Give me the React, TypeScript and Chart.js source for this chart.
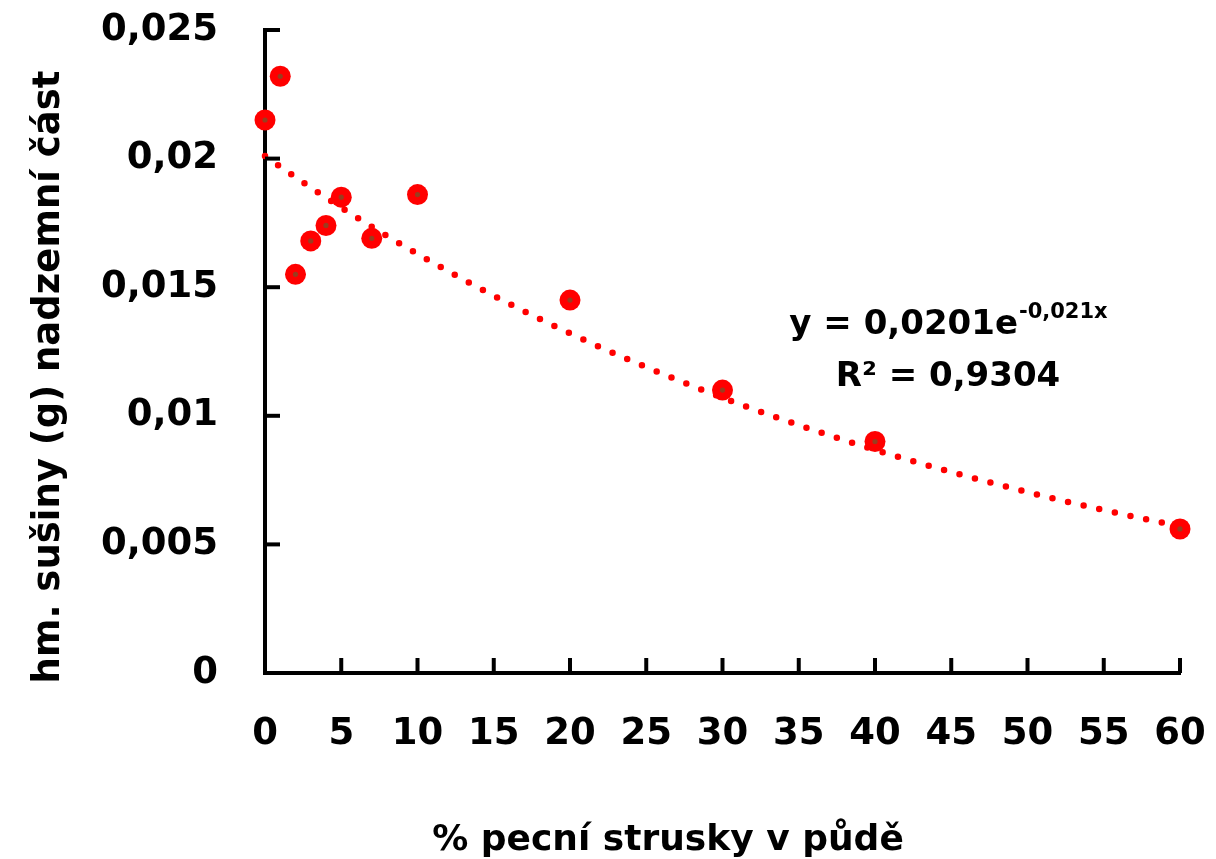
import React, { useEffect, useRef } from "react";
import { Chart, registerables } from "chart.js";

Chart.register(...registerables);

// ---- data ----
const X_VALUES = [0, 1, 2, 3, 4, 5, 7, 10, 20, 30, 40, 60];
const Y_VALUES = [0.0215, 0.0232, 0.0155, 0.0168, 0.0174, 0.0185, 0.0169, 0.0186, 0.0145, 0.011, 0.009, 0.0056];
const X_TICKS = [0, 5, 10, 15, 20, 25, 30, 35, 40, 45, 50, 55, 60];
const Y_TICKS = [0, 0.005, 0.01, 0.015, 0.02, 0.025];
const Y_TICK_LABELS = ["0", "0,005", "0,01", "0,015", "0,02", "0,025"];
// displayed exponential fit: y = 0,0201 e^(-0,021x)
const TREND_A = 0.0201;
const TREND_B = -0.021;
const TREND_X = Array.from({ length: 61 }, (_, i) => i);
const X_TITLE = "% pecní strusky v půdě";
const Y_TITLE = "hm. sušiny (g) nadzemní část";
const EQ_MAIN = "y = 0,0201e";
const EQ_SUP = "-0,021x";
const R2_TEXT = "R² = 0,9304";

const FONT = "'DejaVu Sans', sans-serif";

const decorPlugin = {
  id: "decor",
  afterDraw(chart: any) {
    const { ctx, chartArea, scales } = chart;
    const xs = scales.x;
    const ys = scales.y;
    ctx.save();
    // inward tick marks
    ctx.strokeStyle = "#000";
    ctx.lineWidth = 4;
    ctx.lineCap = "butt";
    Y_TICKS.forEach((v) => {
      const py = ys.getPixelForValue(v);
      ctx.beginPath();
      ctx.moveTo(chartArea.left, py);
      ctx.lineTo(chartArea.left + 15, py);
      ctx.stroke();
    });
    X_TICKS.forEach((v) => {
      const px = xs.getPixelForValue(v);
      ctx.beginPath();
      ctx.moveTo(px, chartArea.bottom);
      ctx.lineTo(px, chartArea.bottom - 15);
      ctx.stroke();
    });

    ctx.fillStyle = "#000";
    // axis titles
    ctx.font = `bold 36px ${FONT}`;
    ctx.textAlign = "center";
    ctx.textBaseline = "alphabetic";
    ctx.fillText(X_TITLE, 668, 850);

    ctx.save();
    ctx.translate(59, 377);
    ctx.rotate(-Math.PI / 2);
    ctx.font = `bold 37px ${FONT}`;
    ctx.fillText(Y_TITLE, 0, 0);
    ctx.restore();

    // equation
    const cx = 948;
    ctx.textAlign = "left";
    ctx.font = `bold 34px ${FONT}`;
    const wMain = ctx.measureText(EQ_MAIN).width;
    ctx.font = `bold 21px ${FONT}`;
    const wSup = ctx.measureText(EQ_SUP).width;
    const start = cx - (wMain + wSup) / 2;
    ctx.font = `bold 34px ${FONT}`;
    ctx.fillText(EQ_MAIN, start, 334);
    ctx.font = `bold 21px ${FONT}`;
    ctx.fillText(EQ_SUP, start + wMain + 1, 318);
    ctx.font = `bold 34px ${FONT}`;
    ctx.textAlign = "center";
    ctx.fillText(R2_TEXT, cx, 386);
    ctx.restore();
  },
};

export default function App() {
  const canvasRef = useRef<HTMLCanvasElement | null>(null);

  useEffect(() => {
    const canvas = canvasRef.current;
    if (!canvas) return;
    const points = X_VALUES.map((x, i) => ({ x, y: Y_VALUES[i] }));
    const trend = TREND_X.map((x) => ({ x, y: TREND_A * Math.exp(TREND_B * x) }));

    const chart = new Chart(canvas, {
      type: "scatter",
      data: {
        datasets: [
          {
            label: "center",
            data: points,
            pointRadius: 2.6,
            pointBackgroundColor: "#9a3d1f",
            pointBorderWidth: 0,
            showLine: false,
            clip: false,
            order: 0,
          } as any,
          {
            label: "data",
            data: points,
            pointRadius: 10.5,
            pointBackgroundColor: "#ff0000",
            pointBorderWidth: 0,
            showLine: false,
            clip: false,
            order: 1,
          } as any,
          {
            label: "trend",
            type: "line",
            data: trend,
            borderColor: "#ff0000",
            borderWidth: 6.5,
            borderDash: [0, 16],
            borderCapStyle: "round",
            pointRadius: 0,
            tension: 0,
            fill: false,
            clip: false,
            order: 2,
          } as any,
        ],
      },
      options: {
        animation: false,
        responsive: false,
        maintainAspectRatio: false,
        devicePixelRatio: 1,
        layout: { padding: { left: 0, right: 36, top: 30, bottom: 0 } },
        plugins: {
          legend: { display: false },
          tooltip: { enabled: false },
        },
        scales: {
          x: {
            type: "linear",
            min: 0,
            max: 60,
            afterBuildTicks: (s: any) => {
              s.ticks = X_TICKS.map((v) => ({ value: v }));
            },
            afterFit: (s: any) => {
              s.height = 186;
              s.paddingLeft = 0;
              s.paddingRight = 0;
              s.paddingTop = 0;
              s.paddingBottom = 0;
            },
            grid: { display: false, drawTicks: false },
            border: { display: true, color: "#000", width: 4 },
            ticks: {
              color: "#000",
              padding: 39,
              maxRotation: 0,
              autoSkip: false,
              font: { family: FONT, size: 37, weight: "bold" },
            },
            title: { display: false },
          },
          y: {
            type: "linear",
            min: 0,
            max: 0.025,
            afterBuildTicks: (s: any) => {
              s.ticks = Y_TICKS.map((v) => ({ value: v }));
            },
            afterFit: (s: any) => {
              s.width = 265;
              s.paddingLeft = 0;
              s.paddingRight = 0;
              s.paddingTop = 0;
              s.paddingBottom = 0;
            },
            grid: { display: false, drawTicks: false },
            border: { display: true, color: "#000", width: 4 },
            ticks: {
              color: "#000",
              padding: 47,
              autoSkip: false,
              font: { family: FONT, size: 37, weight: "bold" },
              callback: (_v: any, i: number) => Y_TICK_LABELS[i],
            },
            title: { display: false },
          },
        },
      } as any,
      plugins: [decorPlugin],
    });

    return () => chart.destroy();
  }, []);

  return (
    <div style={{ position: "absolute", left: 0, top: 0, width: 1216, height: 859, background: "#fff" }}>
      <canvas ref={canvasRef} width={1216} height={859} />
    </div>
  );
}
